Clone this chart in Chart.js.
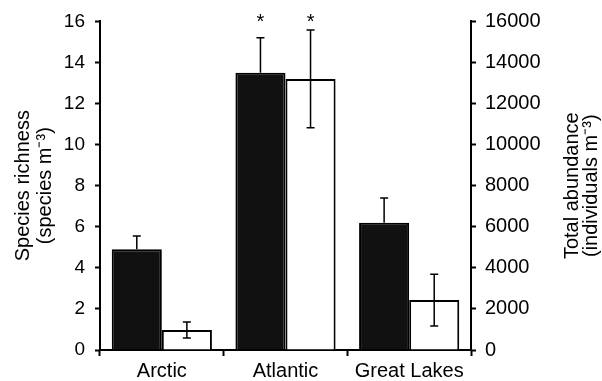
<!DOCTYPE html>
<html>
<head>
<meta charset="utf-8">
<script src="https://cdn.jsdelivr.net/npm/chart.js@4"></script>
<style>
  body { margin: 0; background: #fff; }
  #wrap { width: 602px; height: 381px; }
</style>
</head>
<body>
<div id="wrap"><canvas id="chart" width="602" height="381"></canvas></div>
<script>
const categories = ['Arctic', 'Atlantic', 'Great Lakes'];
const richness = [4.9, 13.5, 6.2];          // species m^-3 (left axis)
const richnessErr = [0.65, 1.7, 1.2];
const abundance = [970, 13200, 2430];       // individuals m^-3 (right axis)
const abundanceErr = [390, 2380, 1260];
const signif = ['', '*', ''];
const errors = [richnessErr, abundanceErr];
const lowerWhisker = [false, true];         // black bars hide the lower half

const FONT = 'Liberation Sans, Arial, sans-serif';

// error bars drawn from the data through the y scales
const errorBars = {
  id: 'errorBars',
  afterDatasetsDraw(chart) {
    const ctx = chart.ctx;
    ctx.save();
    ctx.strokeStyle = '#000';
    ctx.lineWidth = 1.5;
    chart.data.datasets.forEach((ds, i) => {
      const meta = chart.getDatasetMeta(i);
      const scale = chart.scales[meta.yAxisID];
      meta.data.forEach((bar, j) => {
        const v = ds.data[j], e = errors[i][j];
        const top = scale.getPixelForValue(v + e);
        const bot = lowerWhisker[i] ? scale.getPixelForValue(v - e) : scale.getPixelForValue(v);
        ctx.beginPath();
        ctx.moveTo(bar.x, top); ctx.lineTo(bar.x, bot);
        ctx.moveTo(bar.x - 4, top); ctx.lineTo(bar.x + 4, top);
        if (lowerWhisker[i]) { ctx.moveTo(bar.x - 4, bot); ctx.lineTo(bar.x + 4, bot); }
        ctx.stroke();
      });
    });
    // significance stars
    ctx.fillStyle = '#000';
    ctx.font = '20px ' + FONT;
    ctx.textAlign = 'center';
    ctx.textBaseline = 'alphabetic';
    const yTop = chart.scales.y.getPixelForValue(16);
    chart.data.datasets.forEach((ds, i) => {
      chart.getDatasetMeta(i).data.forEach((bar, j) => {
        if (signif[j]) ctx.fillText(signif[j], bar.x, yTop + 7);
      });
    });
    ctx.restore();
  }
};

// right axis title, reading bottom to top like the left one
const rightTitle = {
  id: 'rightTitle',
  afterDraw(chart) {
    const ctx = chart.ctx;
    const area = chart.chartArea;
    const cy = (area.top + area.bottom) / 2;
    ctx.save();
    ctx.fillStyle = '#000';
    ctx.font = '20px ' + FONT;
    ctx.textAlign = 'center';
    ctx.textBaseline = 'middle';
    [['Total abundance', 101], ['(individuals m⁻³)', 120]].forEach(([t, dx]) => {
      ctx.save();
      ctx.translate(area.right + dx, cy);
      ctx.rotate(-Math.PI / 2);
      ctx.fillText(t, 0, 0);
      ctx.restore();
    });
    ctx.restore();
  }
};

new Chart(document.getElementById('chart'), {
  type: 'bar',
  data: {
    labels: categories,
    datasets: [{
      label: 'Species richness',
      data: richness,
      yAxisID: 'y',
      backgroundColor: '#111',
      borderColor: '#000',
      borderWidth: 2
    }, {
      label: 'Total abundance',
      data: abundance,
      yAxisID: 'y1',
      backgroundColor: '#fff',
      borderColor: '#000',
      borderWidth: 2
    }]
  },
  options: {
    responsive: false,
    animation: false,
    categoryPercentage: 0.81,
    barPercentage: 1,
    layout: { padding: { top: 21, left: 0, right: 0, bottom: 0 } },
    plugins: { legend: { display: false }, tooltip: { enabled: false } },
    scales: {
      x: {
        afterFit(scale) { scale.height = 31; },
        grid: { offset: true, drawOnChartArea: false, tickLength: 6, tickColor: '#000', tickWidth: 2 },
        border: { display: true, color: '#000', width: 2 },
        ticks: { color: '#000', font: { family: FONT, size: 20 }, padding: 3 }
      },
      y: {
        position: 'left',
        min: 0, max: 16,
        afterFit(scale) { scale.width = 100; },
        grid: { drawOnChartArea: false, tickLength: 5, tickColor: '#000', tickWidth: 2 },
        border: { display: true, color: '#000', width: 2 },
        ticks: { stepSize: 2, color: '#000', font: { family: FONT, size: 19 }, padding: 10 },
        title: {
          display: true,
          text: ['Species richness', '(species m⁻³)'],
          color: '#000',
          font: { family: FONT, size: 20, lineHeight: 1.1 },
          padding: { top: 12, bottom: 0 }
        }
      },
      y1: {
        position: 'right',
        min: 0, max: 16000,
        afterFit(scale) { scale.width = 131; },
        grid: { drawOnChartArea: false, tickLength: 5, tickColor: '#000', tickWidth: 2 },
        border: { display: true, color: '#000', width: 2 },
        ticks: {
          stepSize: 2000, color: '#000', font: { family: FONT, size: 20 }, padding: 9,
          callback: v => String(v)
        }
      }
    }
  },
  plugins: [errorBars, rightTitle]
});
</script>
</body>
</html>
